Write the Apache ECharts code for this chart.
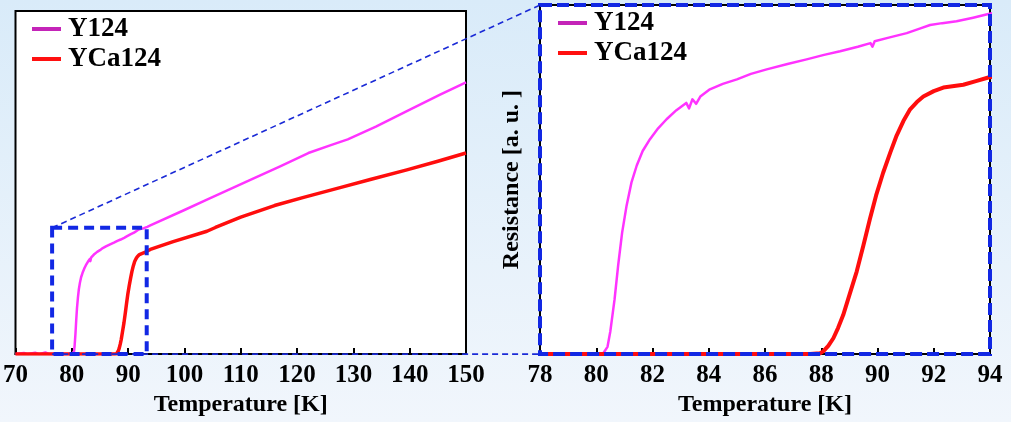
<!DOCTYPE html>
<html><head><meta charset="utf-8">
<script src="https://cdn.jsdelivr.net/npm/echarts@6/dist/echarts.min.js"></script>
<style>html,body{margin:0;padding:0;}#c{width:1011px;height:422px;}</style>
</head><body><div id="c"></div>
<script>
// Temperature [K] and resistance [a.u.] readings
const y124 = [[70,0],[71.5,0.3],[72.2,0],[73.5,0.4],[74.2,0],[75.3,0.5],[76,0],[78,0],[80,0],[80.25,0.1],[80.4,0.8],[80.5,2.5],[80.65,6.0],[80.78,9.8],[80.92,13.4],[81.08,16.4],[81.25,18.9],[81.44,20.8],[81.65,22.4],[81.91,23.7],[82.2,24.9],[82.5,25.9],[82.85,26.9],[83.2,27.7],[83.3,27.1],[83.42,28.1],[83.55,27.6],[83.7,28.4],[84.04,29.2],[84.5,29.8],[85.0,30.3],[85.5,30.9],[86.06,31.4],[86.8,32.0],[87.48,32.5],[88.1,33.0],[88.67,33.4],[89.3,33.9],[89.75,34.3],[89.82,33.9],[89.9,34.5],[90.4,34.9],[91.04,35.4],[91.5,35.9],[91.87,36.3],[92.3,36.5],[92.81,36.7],[93.4,37.1],[93.94,37.5],[100,42.0],[104,45.0],[108,48.0],[112,51.0],[117,54.7],[122,58.6],[122.2,59.1],[126,60.9],[129,62.6],[134,66.3],[139.5,70.8],[145.4,75.6],[150,79.2]];
const yca124 = [[70,0],[80,0],[87.6,0],[87.96,0.1],[88.07,0.3],[88.25,0.9],[88.43,1.75],[88.6,2.9],[88.78,4.3],[89.0,6.5],[89.26,9.1],[89.5,12.0],[89.73,14.9],[89.95,17.5],[90.2,20.0],[90.45,22.2],[90.68,24.1],[90.92,25.7],[91.16,27.0],[91.4,27.8],[91.63,28.4],[92.0,29.0],[92.34,29.4],[93.05,29.7],[93.5,30.1],[93.94,30.5],[98,32.8],[104,35.8],[105.5,36.9],[110,39.9],[116,43.3],[121,45.6],[127.8,48.6],[133,50.9],[139.5,53.7],[145,56.2],[150,58.6]];
const leftXTicks = [70, 150, 10];
const rightXTicks = [78, 94, 2];
const leftYMax = 100;
const rightYMax = 38.5;
const zoomBox = [[76.5, 0], [93.3, 36.8]];
const seriesNames = ['Y124', 'YCa124'];

const font = 'Liberation Serif';
const colY = '#ff33ff', colR = '#ff0d0d';
const chart = echarts.init(document.getElementById('c'));
const xAxisBase = (range, gi) => ({
  type: 'value', gridIndex: gi, min: range[0], max: range[1], interval: range[2],
  name: 'Temperature [K]', nameLocation: 'middle', nameGap: 34,
  nameTextStyle: {fontFamily: font, fontWeight: 'bold', fontSize: 24, color: '#000'},
  axisLine: {show: true, lineStyle: {color: '#000', width: 2}},
  axisTick: {show: true, inside: true, length: 6, lineStyle: {color: '#000', width: 2}},
  axisLabel: {fontFamily: font, fontWeight: 'bold', fontSize: 25, color: '#000', margin: 9},
  splitLine: {show: false}
});
const legendBase = (left, top) => ({
  orient: 'vertical', left: left, top: top, padding: 0, itemGap: 0,
  itemWidth: 29, itemHeight: 4, icon: 'rect',
  textStyle: {fontFamily: font, fontWeight: 'bold', fontSize: 27, color: '#000', lineHeight: 30, padding: [0,0,0,2]},
  data: [{name: seriesNames[0], itemStyle: {color: '#c424b8'}}, {name: seriesNames[1], itemStyle: {color: '#ff1010'}}],
  selectedMode: false
});
const lineSeries = (idx, data, color, width, gi) => ({
  name: seriesNames[idx], type: 'line', xAxisIndex: gi, yAxisIndex: gi, data: data,
  showSymbol: false,
  lineStyle: {color: color, width: width, join: 'round'}, itemStyle: {color: color}, clip: true
});
chart.setOption({
  animation: false,
  backgroundColor: new echarts.graphic.LinearGradient(0, 0, 0, 1, [{offset: 0, color: '#d9ebf9'}, {offset: 1, color: '#f1f6fc'}]),
  grid: [
    {left: 12, top: 11, width: 454, height: 345, show: true, backgroundColor: '#fff', borderColor: '#000', borderWidth: 2},
    {left: 540, top: 5, width: 450, height: 351, show: true, backgroundColor: '#fff', borderColor: '#000', borderWidth: 2}
  ],
  legend: [legendBase(32, 14), legendBase(558, 8)],
  xAxis: [xAxisBase(leftXTicks, 0), xAxisBase(rightXTicks, 1)],
  yAxis: [
    {type: 'value', gridIndex: 0, min: 0, max: leftYMax, axisLine: {show: false}, axisTick: {show: false}, axisLabel: {show: false}, splitLine: {show: false}},
    {type: 'value', gridIndex: 1, min: 0, max: rightYMax, axisLine: {show: false}, axisTick: {show: false}, axisLabel: {show: false}, splitLine: {show: false},
     name: 'Resistance [a. u. ]', nameLocation: 'middle', nameGap: 16,
     nameTextStyle: {fontFamily: font, fontWeight: 'bold', fontSize: 24, color: '#000'}}
  ],
  series: [
    lineSeries(0, y124, colY, 2.5, 0),
    lineSeries(1, yca124, colR, 3.5, 0),
    lineSeries(0, y124, colY, 2.5, 1),
    lineSeries(1, yca124, colR, 4, 1)
  ]
});
// decorations computed from data coordinates
const p = (gi, v) => chart.convertToPixel({gridIndex: gi}, v);
const bl = p(0, zoomBox[0]), tr = p(0, zoomBox[1]);
const rbl = p(1, [rightXTicks[0], 0]), rtr = p(1, [rightXTicks[1], rightYMax]);
const blue = '#1228e4';
chart.setOption({graphic: [
  {type: 'line', z: 100, shape: {x1: bl[0], y1: tr[1], x2: rbl[0], y2: rtr[1]}, style: {stroke: '#1a2ad6', lineWidth: 1.6, lineDash: [6, 4]}},
  {type: 'line', z: 100, shape: {x1: bl[0], y1: bl[1], x2: rbl[0], y2: rbl[1]}, style: {stroke: '#1a2ad6', lineWidth: 1.6, lineDash: [6, 4]}},
  {type: 'rect', z: 100, shape: {x: bl[0], y: tr[1], width: tr[0] - bl[0], height: bl[1] - tr[1]}, style: {fill: 'none', stroke: blue, lineWidth: 4, lineDash: [10, 6]}},
  {type: 'rect', z: 100, shape: {x: rbl[0], y: rtr[1], width: rtr[0] - rbl[0], height: rbl[1] - rtr[1]}, style: {fill: 'none', stroke: blue, lineWidth: 4, lineDash: [12, 5]}}
]});
</script></body></html>
